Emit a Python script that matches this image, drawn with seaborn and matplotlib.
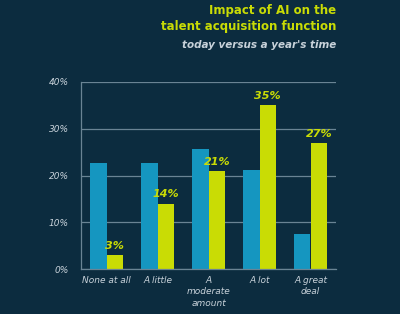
import matplotlib
matplotlib.use("Agg")
import matplotlib.pyplot as plt
import seaborn as sns
import pandas as pd

categories = ["None at all", "A little", "A\nmoderate\namount", "A lot", "A great\ndeal"]
today = [22.6, 22.6, 25.7, 21.2, 7.5]
year_time = [3, 14, 21, 35, 27]
labels_year = ["3%", "14%", "21%", "35%", "27%"]
yticks = [0, 10, 20, 30, 40]

bg = "#0c2c3f"
blue = "#1596c0"
yellow = "#c9dc05"
grey_txt = "#c8d2da"
grid_col = "#6a8494"

df = pd.DataFrame({
    "Category": categories * 2,
    "Value": today + year_time,
    "Series": ["Today"] * 5 + ["In a year"] * 5,
})

sns.set_style("white")
plt.rcParams["font.family"] = ["DejaVu Sans"]

fig = plt.figure(figsize=(4.0, 3.14), dpi=100, facecolor=bg)
ax = fig.add_axes([0.2025, 0.143, 0.6375, 0.596])
ax.set_facecolor(bg)

sns.barplot(data=df, x="Category", y="Value", hue="Series",
            hue_order=["Today", "In a year"],
            palette={"Today": blue, "In a year": yellow},
            width=0.65, saturation=1, linewidth=0, ax=ax, legend=False)

ax.set_xlim(-0.5, len(categories) - 0.5)
ax.set_ylim(0, 40)
ax.set_yticks(yticks)
ax.set_yticklabels([f"{t}%" for t in yticks], fontsize=6.5, style="italic", color=grey_txt)
ax.set_xticks(range(len(categories)))
ax.set_xticklabels(categories, fontsize=6.5, style="italic", color=grey_txt, linespacing=1.35)
ax.set_xticks([i + 0.5 for i in range(len(categories) - 1)], minor=True)
ax.tick_params(axis="x", which="major", length=0, pad=5)
ax.tick_params(axis="x", which="minor", length=3, color=grid_col, direction="out")
ax.tick_params(axis="y", length=0, pad=9)
ax.set_xlabel("")
ax.set_ylabel("")
ax.yaxis.grid(True, color=grid_col, linewidth=0.9)
ax.set_axisbelow(True)
for s in ["top", "right"]:
    ax.spines[s].set_visible(False)
for s in ["left", "bottom"]:
    ax.spines[s].set_color(grid_col)
    ax.spines[s].set_linewidth(0.9)

# value labels above the yellow bars
for bar, lab in zip(ax.containers[1], labels_year):
    ax.annotate(lab, (bar.get_x() + bar.get_width() / 2, bar.get_height()),
                xytext=(0, 3), textcoords="offset points", ha="center", va="bottom",
                fontsize=8, fontweight="bold", style="italic", color=yellow,
                annotation_clip=False)

fig.text(0.84, 0.965, "Impact of AI on the", ha="right", va="center",
         fontsize=8.5, fontweight="bold", color=yellow)
fig.text(0.84, 0.915, "talent acquisition function", ha="right", va="center",
         fontsize=8.5, fontweight="bold", color=yellow)
fig.text(0.84, 0.858, "today versus a year's time", ha="right", va="center",
         fontsize=7.5, fontweight="bold", style="italic", color=grey_txt)

fig.savefig("out.png", dpi=100, facecolor=bg)
